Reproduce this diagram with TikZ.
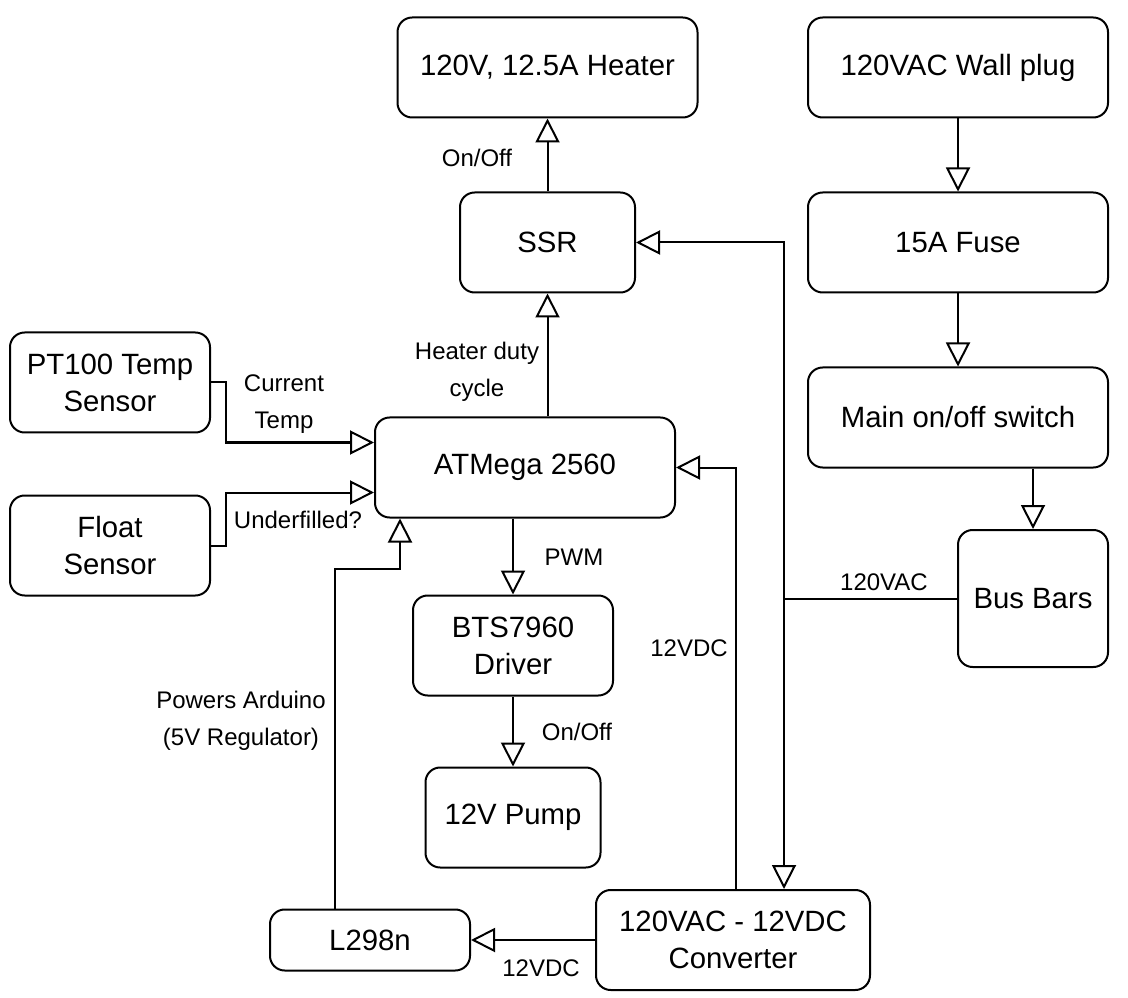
\documentclass[tikz,border=0pt]{standalone}
\usepackage{fontspec}
\setmainfont{Liberation Sans}
\usetikzlibrary{arrows.meta,calc}
\begin{document}
\begin{tikzpicture}[x=0.75pt,y=-0.75pt,
  box/.style={draw,line width=1.5pt,rounded corners=11pt,align=center,
    font=\fontsize{22pt}{27.75pt}\selectfont,inner sep=0pt},
  lbl/.style={align=center,font=\fontsize{18pt}{27.75pt}\selectfont,inner sep=0pt},
  arr/.style={line width=1.5pt,-{Triangle[open,length=18pt,width=18pt]}},
  ln/.style={line width=1.5pt}]
\useasboundingbox (0,0) rectangle (1128,998);
% boxes
\node[box,minimum width=225pt,minimum height=75pt] (heater) at (547.5,67.5) {120V, 12.5A Heater};
\node[box,minimum width=225pt,minimum height=75pt] (wall) at (958,67.5) {120VAC Wall plug};
\node[box,minimum width=131.25pt,minimum height=75pt] (ssr) at (547.5,242.5) {SSR};
\node[box,minimum width=225pt,minimum height=75pt] (fuse) at (958,242.5) {15A Fuse};
\node[box,minimum width=225pt,minimum height=75pt] (switch) at (958,417.5) {Main on/off switch};
\node[box,minimum width=150pt,minimum height=75pt] (pt) at (110,382.5) {PT100 Temp\\Sensor};
\node[box,minimum width=225pt,minimum height=75pt] (atm) at (525,467.5) {ATMega 2560};
\node[box,minimum width=150pt,minimum height=75pt] (float) at (110,545.5) {Float\\Sensor};
\node[box,minimum width=112.5pt,minimum height=102.75pt] (bus) at (1033,598.5) {Bus Bars};
\node[box,minimum width=150pt,minimum height=75pt] (bts) at (513,645.5) {BTS7960\\Driver};
\node[box,minimum width=131.25pt,minimum height=75pt] (pump) at (513,817.5) {12V Pump};
\node[box,minimum width=150pt,minimum height=45.75pt] (l298) at (370,940) {L298n};
\node[box,minimum width=205.5pt,minimum height=75pt] (conv) at (733,940) {120VAC - 12VDC\\Converter};
% connectors
\draw[arr] (ssr.north) -- (heater.south);
\draw[arr] (wall.south) -- (fuse.north);
\draw[arr] (fuse.south) -- (switch.north);
\draw[arr] ($(switch.south)+(75,0)$) -- (bus.north);
\draw[arr] ($(atm.north)+(22.5,0)$) -- (ssr.south);
\draw[arr] (pt.east) -- ++(15,0) |- ($(atm.west)+(0,-25)$);
\draw[arr] (float.east) -- ++(15,0) |- ($(atm.west)+(0,25)$);
\draw[arr] ($(l298.north)+(-35,0)$) |- ($(atm.south)+(-125,50)$) -- ($(atm.south)+(-125,0)$);
\draw[arr] ($(atm.south)+(-12,0)$) -- (bts.north);
\draw[arr] (bts.south) -- (pump.north);
\draw[arr] ($(conv.north)+(3,0)$) |- (atm.east);
\coordinate (j) at ($(bus.west)+(-173,0)$);
\draw[ln] (bus.west) -- (j);
\draw[arr] (j) |- (ssr.east);
\draw[arr] (j) -- (j |- conv.north);
\draw[arr] (conv.west) -- (l298.east);
% labels
\node[lbl] (l1) at (477,158) {On/Off};
\node[lbl] (l2) at (477,372) {Heater duty\\cycle};
\node[lbl] (l3) at (284,404) {Current\\Temp};
\node[lbl] (l4) at (298,520) {Underfilled?};
\node[lbl] (l5) at (241,721) {Powers Arduino\\(5V Regulator)};
\node[lbl] (l6) at (574,557) {PWM};
\node[lbl] (l7) at (577,732) {On/Off};
\node[lbl] (l8) at (689,648) {12VDC};
\node[lbl] (l9) at (884,582) {120VAC};
\node[lbl] (l10) at (541,968) {12VDC};
\end{tikzpicture}
\end{document}
